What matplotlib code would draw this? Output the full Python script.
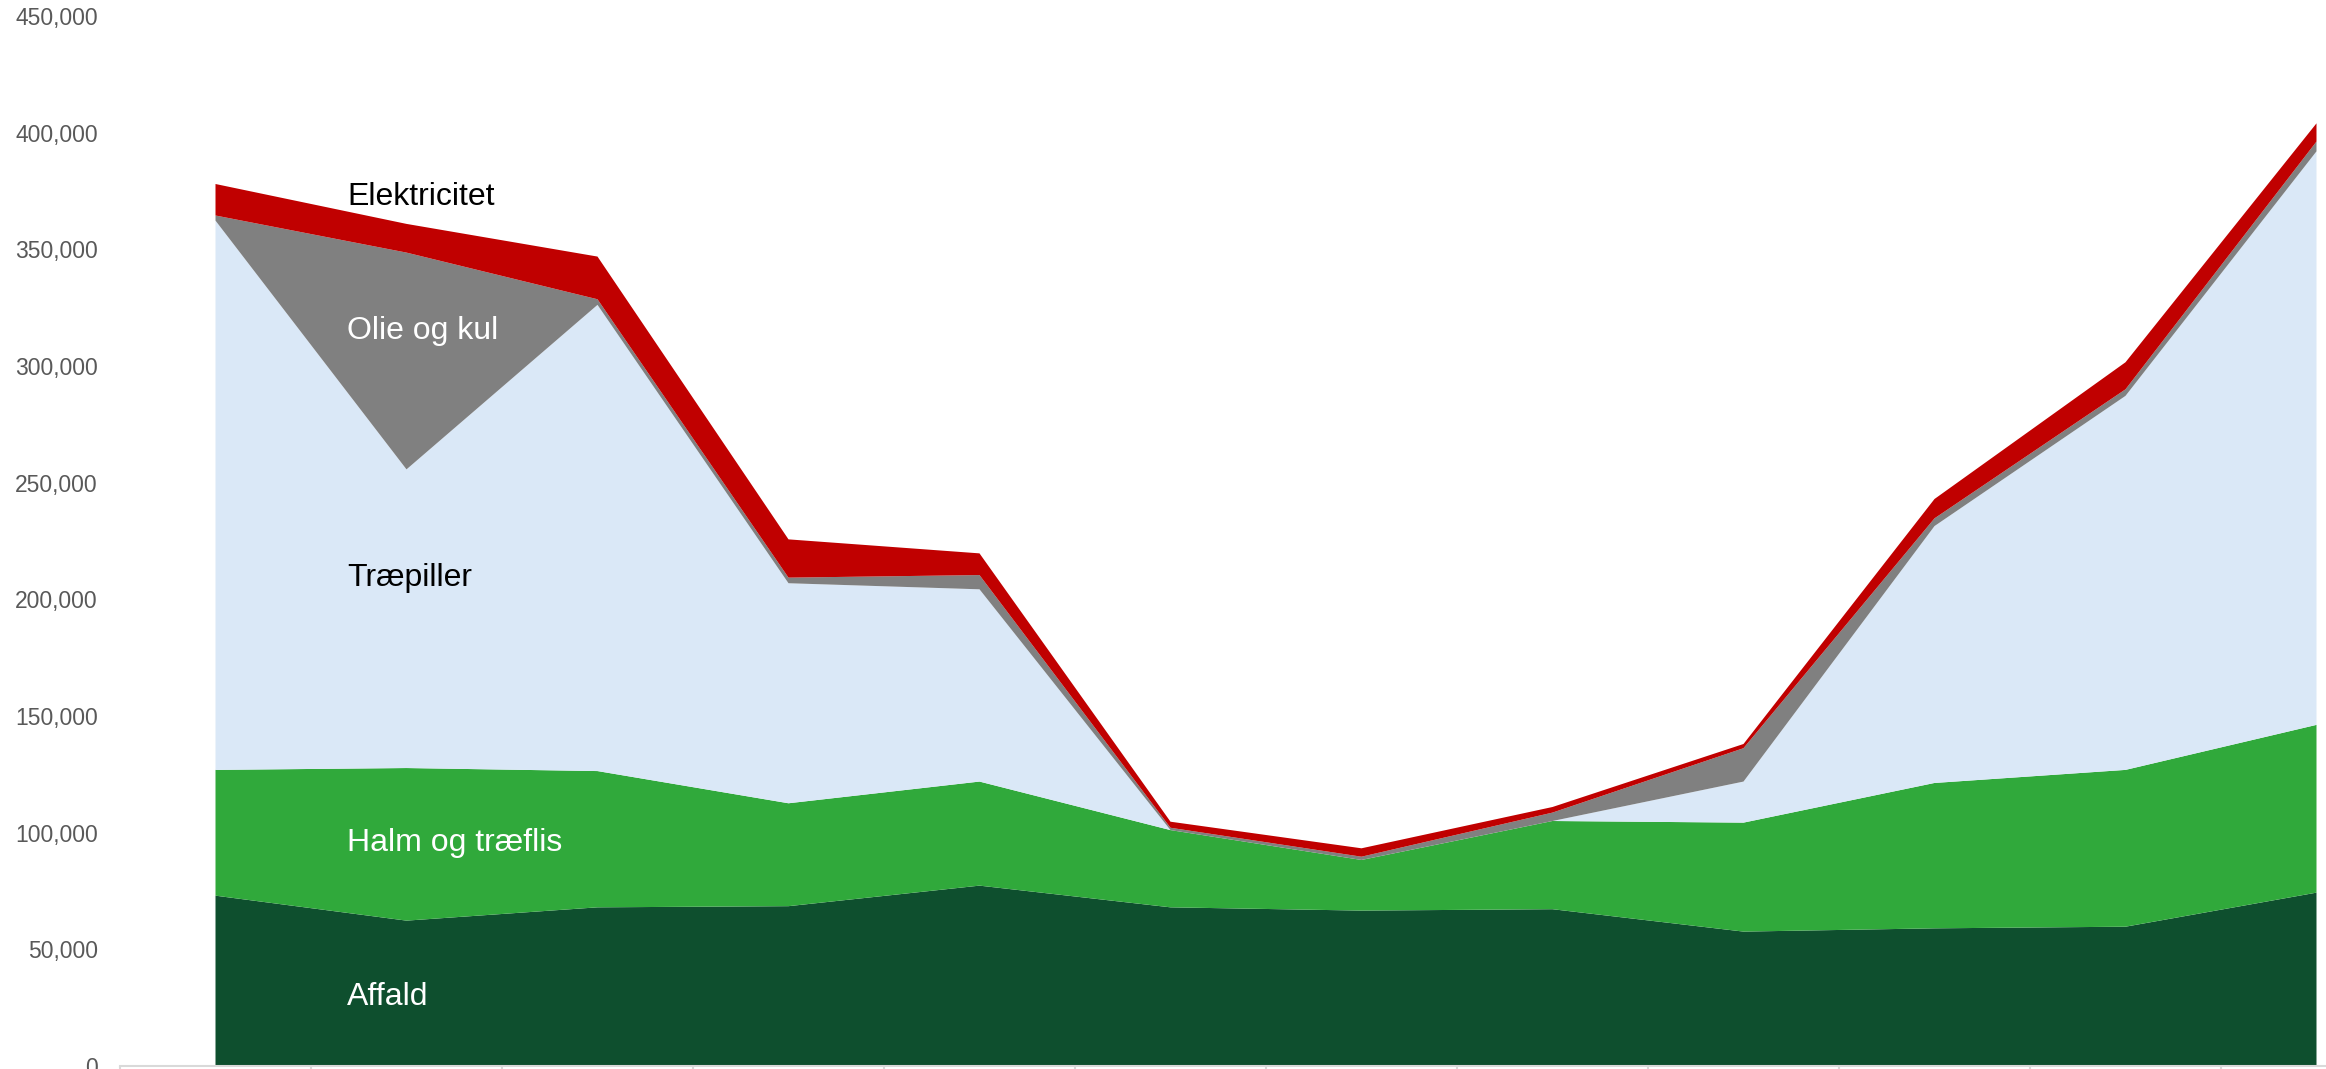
import numpy as np
import matplotlib
matplotlib.use('Agg')
from matplotlib import pyplot as plt
from matplotlib.ticker import FuncFormatter

plt.rcParams['font.family'] = ['Liberation Sans', 'DejaVu Sans']

# one point per category (12)
x = np.arange(12)
affald = [73000, 62300, 68000, 68500, 77300, 68000, 66600, 67200, 57600, 59000, 59700, 74300]
halm = [53900, 65400, 58400, 44100, 44600, 33100, 21700, 37800, 46700, 62300, 67200, 71900]
traepiller = [235400, 128000, 199800, 94300, 82400, 0, 0, 0, 17600, 110100, 160300, 245800]
olie_kul = [2200, 92900, 2400, 2400, 6100, 1000, 1400, 3600, 14300, 3300, 2800, 4200]
elektricitet = [13500, 12300, 18300, 16400, 9300, 2600, 3600, 2400, 1800, 8300, 11600, 7800]

colors = ['#0E4F2E', '#30A93B', '#DAE8F7', '#808080', '#C00000']

W, H = 2326, 1069
fig = plt.figure(figsize=(W / 100, H / 100), dpi=100)
# plot area: left edge at 120px, category width 191px, zero line at 1066px, 450k at 16px
left = 120
step = 191
x_right = (W - left) / step - 0.5
ax = fig.add_axes([left / W, 3 / H, (W - left) / W, 1050 / H])

ax.stackplot(x, affald, halm, traepiller, olie_kul, elektricitet,
             colors=colors, linewidth=0)

ax.set_yticks(np.arange(0, 450001, 50000))
ax.yaxis.set_major_formatter(FuncFormatter(lambda v, p: '{:,.0f}'.format(v)))
ax.tick_params(axis='y', length=0, pad=16, labelsize=16.5, labelcolor='#595959')

ax.set_xticks(np.arange(-0.5, 12, 1))
ax.set_xticklabels([])
ax.tick_params(axis='x', length=8, width=1.5, color='#D9D9D9', direction='out')

# limits after the ticks, the plot runs past the right edge of the picture
ax.set_xlim(-0.5, x_right)
ax.set_ylim(0, 450000)

for s in ['top', 'right', 'left']:
    ax.spines[s].set_visible(False)
ax.spines['bottom'].set_color('#D9D9D9')
ax.spines['bottom'].set_linewidth(1.5)

# series labels inside the areas
lx = 0.69
ax.text(lx, 372500, 'Elektricitet', color='black', fontsize=23, va='center')
ax.text(lx, 315000, 'Olie og kul', color='white', fontsize=23, va='center')
ax.text(lx, 209300, 'Træpiller', color='black', fontsize=23, va='center')
ax.text(lx, 95700, 'Halm og træflis', color='white', fontsize=23, va='center')
ax.text(lx, 29500, 'Affald', color='white', fontsize=23, va='center')

fig.savefig('out.png', dpi=100)
